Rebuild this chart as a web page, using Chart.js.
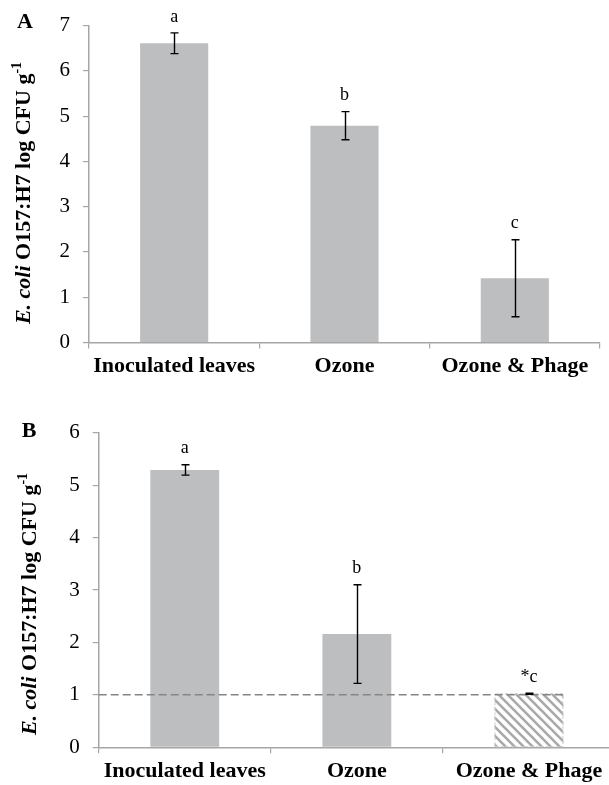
<!DOCTYPE html>
<html>
<head>
<meta charset="utf-8">
<script src="https://cdn.jsdelivr.net/npm/chart.js@4/dist/chart.umd.min.js"></script>
<style>
  html, body { margin: 0; padding: 0; background: #fff; overflow: hidden; }
  #wrap { position: relative; width: 609px; height: 785px; overflow: hidden; }
  canvas { position: absolute; left: 0; }
  #chartA { top: 0; }
  #chartB { top: 385px; }
</style>
</head>
<body>
<div id="wrap">
  <canvas id="chartA" width="609" height="385"></canvas>
  <canvas id="chartB" width="620" height="400"></canvas>
</div>
<script>
const categories = ['Inoculated leaves', 'Ozone', 'Ozone & Phage'];

// panel A
const valuesA = [6.61, 4.79, 1.42];
const errorsA = [0.23, 0.31, 0.85];
const lettersA = ['a', 'b', 'c'];
const yMaxA = 7;

// panel B
const valuesB = [5.29, 2.16, 1.02];
const errorsB = [0.10, 0.94, 0.01];
const lettersB = ['a', 'b', '*c'];
const yMaxB = 6;
const detectionLimitB = 1;
const hatchedB = [false, false, true];

const SERIF = '"Liberation Serif", "Times New Roman", serif';
const barGray = '#bdbec0';
const axisGray = '#a6a6a6';

function hatchPattern(){
  const c = document.createElement('canvas');
  c.width = 9; c.height = 9;
  const p = c.getContext('2d');
  p.fillStyle = '#fff';
  p.fillRect(0, 0, 9, 9);
  p.strokeStyle = '#a9a9a9';
  p.lineWidth = 2.6;
  p.beginPath();
  p.moveTo(-2, -2); p.lineTo(11, 11);
  p.moveTo(-11, -2); p.lineTo(2, 11);
  p.moveTo(7, -2); p.lineTo(20, 11);
  p.stroke();
  return p.createPattern(c, 'repeat');
}

function drawYTitle(ctx, cx, cy, size){
  const fItal = `italic bold ${size}px ${SERIF}`;
  const fBold = `bold ${size}px ${SERIF}`;
  const fSup = `bold ${Math.round(size * 0.62)}px ${SERIF}`;
  const parts = [
    { t: 'E. coli', f: fItal, rise: 0 },
    { t: ' O157:H7 log CFU g', f: fBold, rise: 0 },
    { t: '-1', f: fSup, rise: size * 0.42 }
  ];
  ctx.save();
  let total = 0;
  parts.forEach(p => { ctx.font = p.f; p.w = ctx.measureText(p.t).width; total += p.w; });
  ctx.translate(cx + size * 0.33, cy);
  ctx.rotate(-Math.PI / 2);
  ctx.fillStyle = '#000';
  ctx.textBaseline = 'alphabetic';
  ctx.textAlign = 'left';
  let xx = -total / 2;
  parts.forEach(p => {
    ctx.font = p.f;
    ctx.fillText(p.t, xx, -p.rise);
    xx += p.w;
  });
  ctx.restore();
}

function overlay(cfg){
  return {
    id: 'overlay',
    afterDatasetsDraw(chart){
      const ctx = chart.ctx;
      const ys = chart.scales.y;
      const meta = chart.getDatasetMeta(0);
      ctx.save();

      // dashed outline of hatched bars
      if (cfg.hatched) {
        meta.data.forEach((bar, i) => {
          if (!cfg.hatched[i]) return;
          const left = bar.x - bar.width / 2, right = bar.x + bar.width / 2;
          ctx.strokeStyle = '#cfcfcf';
          ctx.lineWidth = 1;
          ctx.setLineDash([3, 2]);
          ctx.strokeRect(left + 0.5, bar.y, right - left - 1, bar.base - bar.y);
        });
        ctx.setLineDash([]);
      }

      // detection limit line
      if (cfg.limit !== undefined) {
        const last = meta.data[meta.data.length - 1];
        const yy = ys.getPixelForValue(cfg.limit);
        ctx.strokeStyle = '#858585';
        ctx.lineWidth = 1.5;
        ctx.setLineDash([8, 4]);
        ctx.beginPath();
        ctx.moveTo(chart.chartArea.left, yy);
        ctx.lineTo(last.x + last.width / 2, yy);
        ctx.stroke();
        ctx.setLineDash([]);
      }

      // error bars and letters
      meta.data.forEach((bar, i) => {
        const v = cfg.values[i], e = cfg.errors[i];
        const top = ys.getPixelForValue(v + e);
        const bot = ys.getPixelForValue(v - e);
        const x = Math.round(bar.x) + 0.5;
        ctx.strokeStyle = '#000';
        ctx.lineWidth = 1.4;
        ctx.beginPath();
        ctx.moveTo(x, top); ctx.lineTo(x, bot);
        ctx.moveTo(x - 4, top); ctx.lineTo(x + 4, top);
        ctx.moveTo(x - 4, bot); ctx.lineTo(x + 4, bot);
        ctx.stroke();

        ctx.fillStyle = '#000';
        ctx.font = `18px ${SERIF}`;
        ctx.textAlign = 'center';
        ctx.textBaseline = 'middle';
        ctx.fillText(cfg.letters[i], bar.x, top - 16);
      });

      // panel letter and axis title
      ctx.font = `bold 22px ${SERIF}`;
      ctx.textAlign = 'center';
      ctx.textBaseline = 'middle';
      ctx.fillText(cfg.panel, cfg.panelX, cfg.panelY);
      drawYTitle(ctx, cfg.titleX, cfg.titleY, 22);

      ctx.restore();
    }
  };
}

function makeChart(id, values, colors, yMax, box, cfg){
  return new Chart(document.getElementById(id), {
    type: 'bar',
    data: {
      labels: categories,
      datasets: [{
        data: values,
        backgroundColor: colors,
        borderWidth: 0,
        categoryPercentage: 1.0,
        barPercentage: 0.4
      }]
    },
    options: {
      responsive: false,
      animation: false,
      layout: { padding: { left: 0, top: box.top, right: box.right, bottom: 0 } },
      plugins: { legend: { display: false }, tooltip: { enabled: false } },
      scales: {
        x: {
          grid: { display: true, drawOnChartArea: false, drawTicks: true, tickLength: 6, color: axisGray, lineWidth: 1.2, offset: true },
          border: { display: true, color: axisGray, width: 1.5 },
          ticks: { color: '#000', font: { family: SERIF, size: 22, weight: 'bold' }, padding: 5, maxRotation: 0, autoSkip: false },
          afterFit: s => { s.height = box.xh; }
        },
        y: {
          min: 0,
          max: yMax,
          grid: { display: true, drawOnChartArea: false, drawTicks: true, tickLength: 6, color: axisGray, lineWidth: 1.2 },
          border: { display: true, color: axisGray, width: 1.5 },
          ticks: { stepSize: 1, color: '#000', font: { family: SERIF, size: 21 }, padding: 13 },
          afterFit: s => { s.width = box.yw; }
        }
      }
    },
    plugins: [overlay(cfg)]
  });
}

makeChart('chartA', valuesA, valuesA.map(() => barGray), yMaxA,
  { top: 21.5, right: 9, xh: 42.5, yw: 89 },
  { values: valuesA, errors: errorsA, letters: lettersA,
    panel: 'A', panelX: 25, panelY: 22, titleX: 22.5, titleY: 193 });

const pat = hatchPattern();
makeChart('chartB', valuesB, hatchedB.map(h => h ? pat : barGray), yMaxB,
  { top: 47.7, right: 5, xh: 37.7, yw: 98.7 },
  { values: valuesB, errors: errorsB, letters: lettersB, hatched: hatchedB, limit: detectionLimitB,
    panel: 'B', panelX: 29, panelY: 46.7, titleX: 29.2, titleY: 219 });
</script>
</body>
</html>
